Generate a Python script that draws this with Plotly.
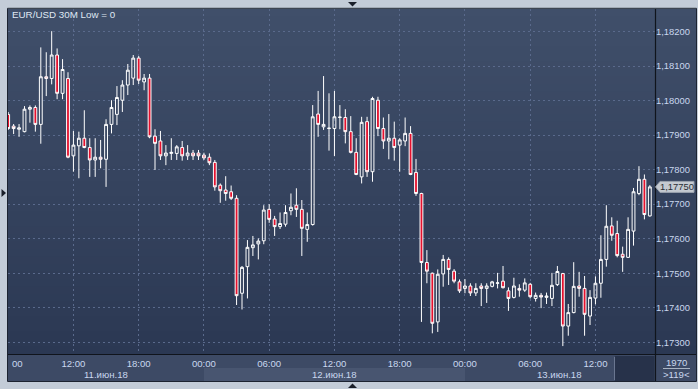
import plotly.graph_objects as go
import pandas as pd

# ---------------- data ----------------
title_text = "EUR/USD 30M Low = 0"
times = pd.date_range("2018-06-11 06:00", periods=119, freq="30min")

opens = [1.17960, 1.17926, 1.17917, 1.17910, 1.17975, 1.17980, 1.17931, 1.18069, 1.18064, 1.18132,
         1.18021, 1.18064, 1.17840, 1.17869, 1.17891, 1.17864, 1.17828, 1.17836, 1.17830, 1.17931,
         1.17960, 1.18001, 1.18045, 1.18065, 1.18123, 1.18054, 1.18065, 1.17897, 1.17883, 1.17840,
         1.17847, 1.17847, 1.17864, 1.17840, 1.17848, 1.17848, 1.17842, 1.17836, 1.17821, 1.17755,
         1.17741, 1.17736, 1.17717, 1.17442, 1.17519, 1.17574, 1.17585, 1.17594, 1.17685, 1.17657,
         1.17635, 1.17642, 1.17681, 1.17697, 1.17685, 1.17627, 1.17641, 1.17961, 1.17924, 1.17919,
         1.17919, 1.17951, 1.17951, 1.17910, 1.17850, 1.17779, 1.17939, 1.17794, 1.18001, 1.17919,
         1.17883, 1.17891, 1.17871, 1.17883, 1.17905, 1.17792, 1.17731, 1.17531, 1.17500, 1.17359,
         1.17498, 1.17540, 1.17506, 1.17475, 1.17456, 1.17463, 1.17443, 1.17463, 1.17456, 1.17462,
         1.17471, 1.17477, 1.17449, 1.17430, 1.17456, 1.17451, 1.17468, 1.17427, 1.17436, 1.17430,
         1.17427, 1.17467, 1.17499, 1.17347, 1.17386, 1.17463, 1.17456, 1.17376, 1.17428, 1.17471,
         1.17540, 1.17637, 1.17615, 1.17555, 1.17546, 1.17622, 1.17731, 1.17772, 1.17666]
highs = [1.17967, 1.17932, 1.17932, 1.17984, 1.17986, 1.17986, 1.18154, 1.18140, 1.18201, 1.18151,
         1.18120, 1.18082, 1.17912, 1.17910, 1.17972, 1.17891, 1.17891, 1.17886, 1.17946, 1.18001,
         1.18042, 1.18059, 1.18106, 1.18132, 1.18129, 1.18077, 1.18077, 1.17917, 1.17912, 1.17871,
         1.17891, 1.17871, 1.17883, 1.17871, 1.17857, 1.17857, 1.17849, 1.17847, 1.17828, 1.17760,
         1.17781, 1.17754, 1.17726, 1.17521, 1.17596, 1.17608, 1.17601, 1.17697, 1.17700, 1.17666,
         1.17676, 1.17697, 1.17731, 1.17746, 1.17712, 1.17676, 1.17987, 1.18028, 1.18071, 1.18021,
         1.18028, 1.17987, 1.17975, 1.17955, 1.17891, 1.17953, 1.17953, 1.18011, 1.18011, 1.17951,
         1.17961, 1.17939, 1.17891, 1.17951, 1.17926, 1.17831, 1.17733, 1.17567, 1.17502, 1.17511,
         1.17553, 1.17546, 1.17512, 1.17482, 1.17483, 1.17471, 1.17471, 1.17471, 1.17471, 1.17478,
         1.17501, 1.17521, 1.17459, 1.17487, 1.17468, 1.17485, 1.17472, 1.17444, 1.17443, 1.17444,
         1.17501, 1.17521, 1.17501, 1.17411, 1.17532, 1.17504, 1.17492, 1.17451, 1.17491, 1.17610,
         1.17697, 1.17662, 1.17652, 1.17577, 1.17662, 1.17747, 1.17810, 1.17786, 1.17755]
lows = [1.17915, 1.17903, 1.17895, 1.17908, 1.17936, 1.17910, 1.17875, 1.18013, 1.18047, 1.18004,
        1.18004, 1.17833, 1.17794, 1.17775, 1.17862, 1.17779, 1.17779, 1.17804, 1.17750, 1.17905,
        1.17929, 1.17967, 1.18016, 1.18045, 1.18048, 1.18030, 1.17891, 1.17799, 1.17828, 1.17813,
        1.17828, 1.17828, 1.17826, 1.17828, 1.17828, 1.17828, 1.17828, 1.17813, 1.17739, 1.17704,
        1.17710, 1.17712, 1.17408, 1.17395, 1.17427, 1.17550, 1.17540, 1.17584, 1.17646, 1.17608,
        1.17628, 1.17635, 1.17668, 1.17663, 1.17550, 1.17591, 1.17638, 1.17895, 1.17915, 1.17855,
        1.17839, 1.17917, 1.17876, 1.17847, 1.17784, 1.17760, 1.17779, 1.17765, 1.17897, 1.17860,
        1.17830, 1.17826, 1.17794, 1.17868, 1.17784, 1.17724, 1.17359, 1.17471, 1.17326, 1.17330,
        1.17461, 1.17466, 1.17471, 1.17443, 1.17442, 1.17434, 1.17434, 1.17405, 1.17414, 1.17459,
        1.17456, 1.17456, 1.17391, 1.17427, 1.17432, 1.17446, 1.17427, 1.17418, 1.17399, 1.17411,
        1.17405, 1.17463, 1.17289, 1.17319, 1.17384, 1.17432, 1.17319, 1.17350, 1.17410, 1.17429,
        1.17519, 1.17594, 1.17546, 1.17504, 1.17544, 1.17580, 1.17726, 1.17656, 1.17664]
closes = [1.17919, 1.17919, 1.17921, 1.17975, 1.17980, 1.17931, 1.18069, 1.18064, 1.18132, 1.18021,
          1.18090, 1.17836, 1.17871, 1.17891, 1.17864, 1.17828, 1.17836, 1.17830, 1.17931, 1.17980,
          1.18009, 1.18045, 1.18088, 1.18123, 1.18059, 1.18065, 1.17895, 1.17876, 1.17840, 1.17848,
          1.17850, 1.17866, 1.17840, 1.17848, 1.17840, 1.17840, 1.17834, 1.17820, 1.17750, 1.17739,
          1.17731, 1.17717, 1.17435, 1.17517, 1.17575, 1.17582, 1.17593, 1.17683, 1.17656, 1.17635,
          1.17644, 1.17676, 1.17691, 1.17685, 1.17630, 1.17641, 1.17953, 1.17931, 1.17931, 1.17920,
          1.17953, 1.17952, 1.17910, 1.17850, 1.17786, 1.17937, 1.17794, 1.18006, 1.17919, 1.17883,
          1.17891, 1.17864, 1.17886, 1.17905, 1.17786, 1.17731, 1.17531, 1.17506, 1.17355, 1.17497,
          1.17540, 1.17511, 1.17477, 1.17449, 1.17463, 1.17443, 1.17456, 1.17456, 1.17463, 1.17475,
          1.17472, 1.17458, 1.17427, 1.17463, 1.17451, 1.17472, 1.17432, 1.17436, 1.17431, 1.17434,
          1.17465, 1.17505, 1.17347, 1.17386, 1.17462, 1.17456, 1.17381, 1.17430, 1.17471, 1.17540,
          1.17636, 1.17610, 1.17551, 1.17546, 1.17627, 1.17736, 1.17772, 1.17670, 1.17750]

tick_times = pd.date_range("2018-06-11 12:00", "2018-06-13 12:00", freq="6h")
tick_labels = [t.strftime("%H:%M") for t in tick_times]
day_starts = pd.to_datetime(["2018-06-11 00:00", "2018-06-12 00:00", "2018-06-13 00:00"])
date_labels = ["11.июн.18", "12.июн.18", "13.июн.18"]
price_ticks = [1.173, 1.174, 1.175, 1.176, 1.177, 1.178, 1.179, 1.180, 1.181, 1.182]
y_range = [1.172661, 1.182652]
bars_label_top = "1970"
bars_label_bottom = ">119<"

# ---------------- layout geometry (pixels) ----------------
W, H = 698, 389
L, R, T, B = 8, 655, 9, 354
step = pd.Timedelta(minutes=30)
x_start = times[0] - pd.Timedelta(minutes=1)
x_end = times[0] + step * 118.95


def px(x):
    return (x - L) / (R - L)


def py(y):
    return (B - y) / (B - T)


def lerp(c0, c1, f):
    return "rgb(%d,%d,%d)" % tuple(round(a + (b - a) * f) for a, b in zip(c0, c1))


FONT = "Liberation Sans, Arial, sans-serif"
LABEL_C = "#c9d7ee"
GRID_C = "#5a6a8c"

fig = go.Figure()
fig.add_trace(go.Candlestick(
    x=times, open=opens, high=highs, low=lows, close=closes,
    increasing=dict(line=dict(color="#ffffff", width=1), fillcolor="rgba(0,0,0,0)"),
    decreasing=dict(line=dict(color="#ffffff", width=1), fillcolor="#e5112e"),
    whiskerwidth=0, hoverinfo="skip", showlegend=False,
))

shapes = []
# gradient background for plot area and right panel
top_c, bot_c = (64, 79, 106), (43, 56, 83)
N = 46
for k in range(N):
    y0 = T + (B - T) * k / N
    y1 = T + (B - T) * (k + 1) / N + 0.6
    col = lerp(top_c, bot_c, (k + 0.5) / N)
    shapes.append(dict(type="rect", xref="paper", yref="paper", layer="below",
                       x0=px(L), x1=px(696), y0=py(y1), y1=py(y0),
                       fillcolor=col, line=dict(width=0)))
# bottom axis panel
shapes.append(dict(type="rect", xref="paper", yref="paper", layer="below",
                   x0=px(L), x1=px(696), y0=py(381), y1=py(B),
                   fillcolor="#3d4a65", line=dict(width=0)))
# scroll band in date row
shapes.append(dict(type="rect", xref="paper", yref="paper", layer="below",
                   x0=px(204), x1=px(465), y0=py(381), y1=py(368),
                   fillcolor="#485570", line=dict(width=0)))
# dark box at right end of time axis
shapes.append(dict(type="rect", xref="paper", yref="paper", layer="below",
                   x0=px(615), x1=px(654.5), y0=py(381), y1=py(356),
                   fillcolor="#27324a", line=dict(width=0)))
shapes.append(dict(type="line", xref="paper", yref="paper",
                   x0=px(614.5), x1=px(614.5), y0=py(380), y1=py(357),
                   line=dict(color="#6a7690", width=1)))
# right-bottom box separator
shapes.append(dict(type="line", xref="paper", yref="paper",
                   x0=px(663), x1=px(690), y0=py(368.5), y1=py(368.5),
                   line=dict(color="#aab4c4", width=1)))
# axis lines
shapes.append(dict(type="line", xref="paper", yref="paper",
                   x0=px(L), x1=px(696), y0=py(B + 0.5), y1=py(B + 0.5),
                   line=dict(color="#10141c", width=1.2)))
shapes.append(dict(type="line", xref="paper", yref="paper",
                   x0=px(R + 0.5), x1=px(R + 0.5), y0=py(381), y1=py(T),
                   line=dict(color="#10141c", width=1.2)))
# outer dark frame
shapes.append(dict(type="rect", xref="paper", yref="paper",
                   x0=px(7.5), x1=px(696.5), y0=py(381.5), y1=py(8.3),
                   fillcolor="rgba(0,0,0,0)", line=dict(color="#1c2331", width=1)))
# small navigation triangles on the light frame
shapes.append(dict(type="path", xref="paper", yref="paper",
                   path="M %f %f L %f %f L %f %f Z" % (px(348), py(2), px(357), py(2), px(352.5), py(6.5)),
                   fillcolor="#1a1f2a", line=dict(width=0)))
shapes.append(dict(type="path", xref="paper", yref="paper",
                   path="M %f %f L %f %f L %f %f Z" % (px(348), py(388), px(357), py(388), px(352.5), py(383.5)),
                   fillcolor="#1a1f2a", line=dict(width=0)))
shapes.append(dict(type="path", xref="paper", yref="paper",
                   path="M %f %f L %f %f L %f %f Z" % (px(1.5), py(189), px(1.5), py(197), px(6), py(193)),
                   fillcolor="#1a1f2a", line=dict(width=0)))
# last-price tag (follows the last close)
ppx = (y_range[1] - y_range[0]) / (B - T)
lp = closes[-1]
shapes.append(dict(type="path", xref="paper", yref="y",
                   path="M %f %f L %f %f L %f %f L %f %f L %f %f Z" % (
                       px(655.5), lp, px(660), lp + 5.5 * ppx, px(694), lp + 5.5 * ppx,
                       px(694), lp - 5.5 * ppx, px(660), lp - 5.5 * ppx),
                   fillcolor="#c5cad1", line=dict(color="#9aa2ad", width=1)))

annotations = [
    dict(text=title_text, xref="paper", yref="paper", x=px(10), y=py(14.5),
         xanchor="left", yanchor="middle", showarrow=False,
         font=dict(family=FONT, size=9.8, color="#dfe7f3")),
    dict(text="00", xref="paper", yref="paper", x=px(10), y=py(363),
         xanchor="left", yanchor="middle", showarrow=False,
         font=dict(family=FONT, size=9.6, color=LABEL_C)),
    dict(text=f"{lp:.5f}".replace(".", ","), xref="paper", yref="y", x=px(677), y=lp,
         xanchor="center", yanchor="middle", showarrow=False,
         font=dict(family=FONT, size=9.4, color="#2a2e35")),
    dict(text=bars_label_top, xref="paper", yref="paper", x=px(676), y=py(362.5),
         xanchor="center", yanchor="middle", showarrow=False,
         font=dict(family=FONT, size=9.6, color=LABEL_C)),
    dict(text=bars_label_bottom, xref="paper", yref="paper", x=px(676), y=py(374.5),
         xanchor="center", yanchor="middle", showarrow=False,
         font=dict(family=FONT, size=9.6, color=LABEL_C)),
]
# date labels centred in the visible part of each day
for d, lab in zip(day_starts, date_labels):
    a = max(d, x_start)
    b = min(d + pd.Timedelta(days=1), x_end)
    annotations.append(dict(text=lab, xref="x", yref="paper", x=a + (b - a) / 2, y=py(374.5),
                            xanchor="center", yanchor="middle", showarrow=False,
                            font=dict(family=FONT, size=9.6, color=LABEL_C)))

fig.update_layout(
    width=W, height=H,
    margin=dict(l=L, r=W - R, t=T, b=H - B, pad=0),
    paper_bgcolor="#c3ccd8",
    plot_bgcolor="rgba(0,0,0,0)",
    separators=",.",
    showlegend=False,
    hovermode=False,
    shapes=shapes,
    annotations=annotations,
    boxgap=0.26,
    xaxis=dict(
        range=[x_start, x_end], rangeslider=dict(visible=False),
        tickvals=list(tick_times), ticktext=tick_labels,
        tickfont=dict(family=FONT, size=9.6, color=LABEL_C),
        ticklabelstandoff=2,
        ticks="", showgrid=True, gridcolor=GRID_C, gridwidth=1, griddash="2px,3px",
        zeroline=False, showline=False, fixedrange=True,
    ),
    yaxis=dict(
        range=y_range, side="right", tickvals=price_ticks, tickformat=".5f",
        tickfont=dict(family=FONT, size=9.4, color=LABEL_C),
        ticks="", showgrid=True, gridcolor=GRID_C, gridwidth=1, griddash="2px,3px",
        zeroline=False, showline=False, fixedrange=True,
    ),
)

fig.write_html(
    "out.html",
    config=dict(displayModeBar=False, staticPlot=True),
    post_script=(
        "document.body.style.margin='0';"
        "document.body.style.overflow='hidden';"
        "document.documentElement.style.overflow='hidden';"
    ),
)
